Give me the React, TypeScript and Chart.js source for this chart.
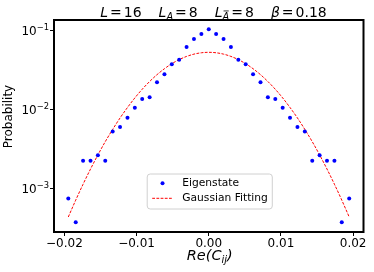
import React, { useEffect, useRef } from "react";
import { Chart, registerables } from "chart.js";

Chart.register(...registerables);

// ---- data ----
const X_VALUES = [
  -0.01946, -0.01843, -0.01741, -0.01638, -0.01536, -0.01434, -0.01331, -0.01229, -0.01126, -0.01024,
  -0.00922, -0.00819, -0.00717, -0.00614, -0.00512, -0.0041, -0.00307, -0.00205, -0.00102, 0.0,
  0.00102, 0.00205, 0.00307, 0.0041, 0.00512, 0.00614, 0.00717, 0.00819, 0.00922, 0.01024,
  0.01126, 0.01229, 0.01331, 0.01434, 0.01536, 0.01638, 0.01741, 0.01843, 0.01946,
];
const EIGENSTATE = [
  0.00076, 0.000378, 0.00228, 0.00228, 0.00267, 0.00228, 0.00535, 0.0061, 0.008, 0.0107,
  0.0138, 0.0145, 0.0224, 0.0283, 0.0379, 0.0432, 0.0627, 0.0792, 0.0916, 0.105,
  0.0916, 0.0792, 0.0627, 0.0432, 0.0379, 0.0283, 0.0224, 0.0145, 0.0138, 0.0107,
  0.008, 0.0061, 0.00535, 0.00228, 0.00267, 0.00228, 0.00228, 0.000378, 0.00076,
];
const GAUSSIAN_FIT = [
  0.000442, 0.000723, 0.00115, 0.00179, 0.0027, 0.00397, 0.00568, 0.00792, 0.01075, 0.01421,
  0.01829, 0.02293, 0.02799, 0.03328, 0.03851, 0.04341, 0.04764, 0.05092, 0.05299, 0.0537,
  0.05299, 0.05092, 0.04764, 0.04341, 0.03851, 0.03328, 0.02799, 0.02293, 0.01829, 0.01421,
  0.01075, 0.00792, 0.00568, 0.00397, 0.0027, 0.00179, 0.00115, 0.000723, 0.000442,
];
const X_TICKS = [-0.02, -0.01, 0, 0.01, 0.02];
const Y_TICK_EXPONENTS = [-3, -2, -1];
const SERIES_LABELS = ["Eigenstate", "Gaussian Fitting"];
const X_LIMITS = [-0.02144, 0.02144];
const Y_LIMITS = [2.855e-4, 0.1377];

const FONT = "'DejaVu Sans', sans-serif";

type Seg = { t: string; size: number; it?: boolean; dy?: number; pad?: number; bar?: boolean; gap?: number };

function segWidth(ctx: CanvasRenderingContext2D, s: Seg) {
  if (s.gap) return s.gap;
  ctx.font = `${s.it ? "italic " : ""}${s.size}px ${FONT}`;
  return ctx.measureText(s.t).width + 2 * (s.pad || 0);
}

function drawSegs(ctx: CanvasRenderingContext2D, segs: Seg[], cx: number, baseline: number) {
  const total = segs.reduce((a, s) => a + segWidth(ctx, s), 0);
  let x = cx - total / 2;
  ctx.textAlign = "left";
  ctx.textBaseline = "alphabetic";
  ctx.fillStyle = "#000";
  for (const s of segs) {
    const w = segWidth(ctx, s);
    if (!s.gap) {
      ctx.font = `${s.it ? "italic " : ""}${s.size}px ${FONT}`;
      const y = baseline + (s.dy || 0);
      ctx.fillText(s.t, x + (s.pad || 0), y);
      if (s.bar) {
        ctx.strokeStyle = "#000";
        ctx.lineWidth = 0.8;
        ctx.beginPath();
        ctx.moveTo(x + 1, y - s.size * 0.73 - 1.5);
        ctx.lineTo(x + w - 0.5, y - s.size * 0.73 - 1.5);
        ctx.stroke();
      }
    }
    x += w;
  }
}

const decorPlugin = {
  id: "decor",
  afterDraw(chart: any) {
    const ctx: CanvasRenderingContext2D = chart.ctx;
    const { left, right, top, bottom } = chart.chartArea;
    const yScale = chart.scales.y;
    ctx.save();

    // frame
    ctx.strokeStyle = "#000";
    ctx.lineWidth = 2;
    ctx.strokeRect(left, top, right - left, bottom - top);

    // y tick labels 10^k
    for (const e of Y_TICK_EXPONENTS) {
      const py = yScale.getPixelForValue(Math.pow(10, e));
      ctx.fillStyle = "#000";
      ctx.textBaseline = "alphabetic";
      ctx.textAlign = "right";
      ctx.font = `8.4px ${FONT}`;
      const sup = "\u2212" + String(-e);
      const supW = ctx.measureText(sup).width;
      const xr = left - 5;
      ctx.fillText(sup, xr, py - 0.5);
      ctx.font = `12px ${FONT}`;
      ctx.fillText("10", xr - supW, py + 4.5);
    }

    // title
    const B = 14;
    const S = 9.8;
    const eq: Seg = { t: "=", size: B, pad: 2 };
    const Q: Seg = { t: "", size: B, gap: 17 };
    drawSegs(
      ctx,
      [
        { t: "L", size: B, it: true }, eq, { t: "16", size: B }, Q,
        { t: "L", size: B, it: true }, { t: "A", size: S, it: true, dy: 2.8 }, eq, { t: "8", size: B }, Q,
        { t: "L", size: B, it: true }, { t: "A", size: S, it: true, dy: 2.8, bar: true }, eq, { t: "8", size: B }, Q,
        { t: "\u03b2", size: B, it: true }, eq, { t: "0.18", size: B },
      ],
      213.5,
      16.8
    );

    // x label
    drawSegs(
      ctx,
      [
        { t: "Re(C", size: 14.5, it: true },
        { t: "ij", size: 10, it: true, dy: 3 },
        { t: ")", size: 14.5, it: true },
      ],
      (left + right) / 2 + 1,
      259.5
    );

    // y label
    ctx.save();
    ctx.translate(9, 116.5);
    ctx.rotate(-Math.PI / 2);
    ctx.font = `12px ${FONT}`;
    ctx.textAlign = "center";
    ctx.textBaseline = "middle";
    ctx.fillStyle = "#000";
    ctx.fillText("Probability", 0, 0);
    ctx.restore();

    // legend
    const fs = 10.7;
    ctx.font = `${fs}px ${FONT}`;
    const tw = Math.max(...SERIES_LABELS.map((l) => ctx.measureText(l).width));
    const padL = 5, handle = 20.6, hGap = 9.4, padR = 4.4;
    const bw = padL + handle + hGap + tw + padR;
    const bh = 35;
    const bx = (left + right) / 2 + 1 - bw / 2;
    const by = bottom - 23 - bh;
    ctx.beginPath();
    const r = 3;
    ctx.moveTo(bx + r, by);
    ctx.arcTo(bx + bw, by, bx + bw, by + bh, r);
    ctx.arcTo(bx + bw, by + bh, bx, by + bh, r);
    ctx.arcTo(bx, by + bh, bx, by, r);
    ctx.arcTo(bx, by, bx + bw, by, r);
    ctx.closePath();
    ctx.fillStyle = "rgba(255,255,255,0.8)";
    ctx.fill();
    ctx.strokeStyle = "#d0d0d0";
    ctx.lineWidth = 1;
    ctx.stroke();

    const y1 = by + 9.3;
    const y2 = by + 24.3;
    ctx.fillStyle = "#0000ff";
    ctx.beginPath();
    ctx.arc(bx + padL + handle / 2, y1, 2, 0, Math.PI * 2);
    ctx.fill();
    ctx.strokeStyle = "#ff0000";
    ctx.lineWidth = 1;
    ctx.setLineDash([2.8, 1.4]);
    ctx.beginPath();
    ctx.moveTo(bx + padL, y2);
    ctx.lineTo(bx + padL + handle, y2);
    ctx.stroke();
    ctx.setLineDash([]);
    ctx.fillStyle = "#000";
    ctx.font = `${fs}px ${FONT}`;
    ctx.textAlign = "left";
    ctx.textBaseline = "middle";
    ctx.fillText(SERIES_LABELS[0], bx + padL + handle + hGap, y1);
    ctx.fillText(SERIES_LABELS[1], bx + padL + handle + hGap, y2);

    ctx.restore();
  },
};

export default function App() {
  const ref = useRef<HTMLCanvasElement | null>(null);
  useEffect(() => {
    if (!ref.current) return;
    const chart = new Chart(ref.current, {
      type: "scatter",
      data: {
        datasets: [
          {
            label: SERIES_LABELS[1],
            data: X_VALUES.map((x, i) => ({ x, y: GAUSSIAN_FIT[i] })),
            showLine: true,
            borderColor: "#ff0000",
            borderWidth: 1,
            borderDash: [2.8, 1.4],
            pointRadius: 0,
            tension: 0.4,
            cubicInterpolationMode: "monotone",
            order: 2,
          },
          {
            label: SERIES_LABELS[0],
            data: X_VALUES.map((x, i) => ({ x, y: EIGENSTATE[i] })),
            showLine: false,
            pointRadius: 2,
            pointBackgroundColor: "#0000ff",
            pointBorderWidth: 0,
            backgroundColor: "#0000ff",
            borderColor: "#0000ff",
            order: 1,
          },
        ],
      } as any,
      options: {
        responsive: false,
        animation: false,
        devicePixelRatio: 1,
        layout: { padding: { left: 0, top: 20, right: 10.5, bottom: 0 } },
        plugins: { legend: { display: false }, tooltip: { enabled: false }, title: { display: false } },
        scales: {
          x: {
            type: "linear",
            min: X_LIMITS[0],
            max: X_LIMITS[1],
            afterBuildTicks: (s: any) => {
              s.ticks = X_TICKS.map((v) => ({ value: v }));
            },
            afterFit: (s: any) => {
              s.height = 40;
            },
            border: { display: false },
            grid: { display: true, drawOnChartArea: false, drawTicks: true, tickLength: 4, tickColor: "#000", tickWidth: 1 },
            ticks: {
              color: "#000",
              font: { family: FONT, size: 12 },
              padding: 1,
              maxRotation: 0,
              callback: (v: any) => {
                const n = Number(v);
                const s = Math.abs(n).toFixed(2);
                return n < -1e-12 ? "\u2212" + s : s;
              },
            },
          },
          y: {
            type: "logarithmic",
            min: Y_LIMITS[0],
            max: Y_LIMITS[1],
            afterBuildTicks: (s: any) => {
              s.ticks = Y_TICK_EXPONENTS.map((e) => ({ value: Math.pow(10, e) }));
            },
            afterFit: (s: any) => {
              s.width = 54;
            },
            border: { display: false },
            grid: { display: true, drawOnChartArea: false, drawTicks: true, tickLength: 4, tickColor: "#000", tickWidth: 1 },
            ticks: { display: false },
          },
        },
      } as any,
      plugins: [decorPlugin],
    });
    return () => chart.destroy();
  }, []);
  return (
    <div style={{ position: "fixed", left: 0, top: 0, width: 374, height: 272, background: "#fff" }}>
      <canvas ref={ref} width={374} height={272} style={{ width: 374, height: 272, display: "block" }} />
    </div>
  );
}
